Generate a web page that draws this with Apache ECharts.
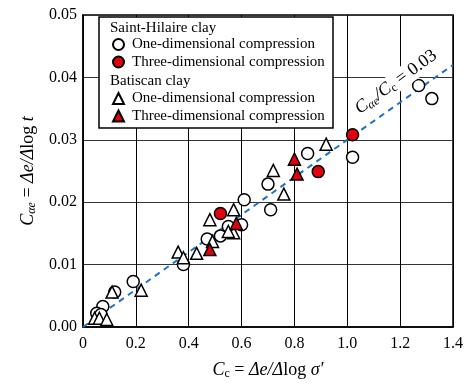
<!DOCTYPE html>
<html>
<head>
<meta charset="utf-8">
<script src="https://cdn.jsdelivr.net/npm/echarts@6/dist/echarts.min.js"></script>
<style>
  html, body { margin: 0; padding: 0; background: #fff; }
  #chart { width: 466px; height: 385px; }
</style>
</head>
<body>
<div id="chart"></div>
<script>
// tick labels
const xTicks = [0, 0.2, 0.4, 0.6, 0.8, 1.0, 1.2, 1.4];
const yTicks = [0, 0.01, 0.02, 0.03, 0.04, 0.05];

// Saint-Hilaire clay
const shOneDim = [
  [1.27, 0.0387], [1.32, 0.0366], [1.02, 0.0272], [0.85, 0.0278], [0.70, 0.0229],
  [0.71, 0.0188], [0.61, 0.0204], [0.60, 0.0164], [0.55, 0.0161], [0.52, 0.0146],
  [0.47, 0.0141], [0.38, 0.0100], [0.19, 0.0073], [0.12, 0.0056], [0.075, 0.0033],
  [0.052, 0.0022], [0.068, 0.0020]
];
const shThreeDim = [[1.02, 0.0308], [0.89, 0.0249], [0.52, 0.0182]];

// Batiscan clay
const btOneDim = [
  [0.92, 0.0293], [0.72, 0.0251], [0.76, 0.0213], [0.57, 0.0188], [0.48, 0.0172],
  [0.57, 0.0151], [0.55, 0.0153], [0.49, 0.0137], [0.43, 0.0118], [0.36, 0.0120],
  [0.38, 0.0111], [0.22, 0.0059], [0.11, 0.0056], [0.044, 0.0014], [0.062, 0.0014],
  [0.09, 0.0012]
];
const btThreeDim = [[0.80, 0.0269], [0.81, 0.0245], [0.58, 0.0166], [0.48, 0.0124]];

// C_ae / C_c = 0.03
const refLine = [[0, 0], [1.4, 0.042]];

const serif = 'Liberation Serif';
const RED = '#e3000f';

const chart = echarts.init(document.getElementById('chart'));

const mk = (name, data, symbol, fill) => ({
  name: name,
  type: 'scatter',
  data: data,
  symbol: symbol,
  symbolSize: 12,
  itemStyle: { color: fill, borderColor: '#000', borderWidth: 1.5, opacity: 1 },
  z: 3
});

const nameRich = {
  i: { fontFamily: serif, fontStyle: 'italic', fontSize: 18, color: '#000' },
  n: { fontFamily: serif, fontSize: 18, color: '#000' },
  sub: { fontFamily: serif, fontStyle: 'italic', fontSize: 12, color: '#000', padding: [8, 0, 0, 0] },
  subu: { fontFamily: serif, fontSize: 12, color: '#000', padding: [8, 0, 0, 0] }
};

const legendText = { fontFamily: serif, fontSize: 15, color: '#000', padding: [0, 0, 0, 3] };

const legendBase = {
  orient: 'vertical', left: 112, padding: 0,
  itemWidth: 11, itemHeight: 11, itemGap: 2.5,
  selectedMode: false, z: 6,
  textStyle: legendText
};

chart.setOption({
  animation: false,
  grid: {
    left: 83, right: 9, top: 15, bottom: 53,
    show: true, borderColor: '#000', borderWidth: 1.5, backgroundColor: 'transparent'
  },
  xAxis: {
    type: 'value',
    min: xTicks[0], max: xTicks[xTicks.length - 1], interval: 0.2,
    axisLine: { show: true, lineStyle: { color: '#000', width: 1.5 } },
    axisTick: { show: false },
    splitLine: { show: true, lineStyle: { color: '#000', width: 1 } },
    axisLabel: {
      fontFamily: serif, fontSize: 16, color: '#000', margin: 9,
      formatter: v => (v === 0 ? '0' : v.toFixed(1))
    },
    name: '{i|C}{subu|c}{n| = }{i|Δe/Δ}{n|log }{i|σ′}',
    nameLocation: 'middle', nameGap: 33,
    nameTextStyle: { rich: nameRich }
  },
  yAxis: {
    type: 'value',
    min: yTicks[0], max: yTicks[yTicks.length - 1], interval: 0.01,
    axisLine: { show: true, lineStyle: { color: '#000', width: 1.5 } },
    axisTick: { show: false },
    splitLine: { show: true, lineStyle: { color: '#333', width: 1 } },
    axisLabel: {
      fontFamily: serif, fontSize: 16, color: '#000', margin: 6,
      formatter: v => v.toFixed(2)
    },
    name: '{i|C}{sub|αe}{n| = }{i|Δe/Δ}{n|log }{i|t}',
    nameLocation: 'middle', nameGap: 45,
    nameTextStyle: { rich: nameRich }
  },
  legend: [
    Object.assign({}, legendBase, {
      data: ['One-dimensional compression', 'Three-dimensional compression'],
      top: 37
    }),
    Object.assign({}, legendBase, {
      data: ['One-dimensional compression ', 'Three-dimensional compression '],
      top: 91
    })
  ],
  graphic: [
    {
      type: 'rect', z: 5,
      shape: { x: 99, y: 17, width: 234, height: 111 },
      style: { fill: '#fff', stroke: '#000', lineWidth: 1.5 }
    },
    {
      type: 'text', z: 6, left: 110, top: 21,
      style: { text: 'Saint-Hilaire clay', font: '15px "Liberation Serif"', fill: '#000' }
    },
    {
      type: 'text', z: 6, left: 110, top: 74,
      style: { text: 'Batiscan clay', font: '15px "Liberation Serif"', fill: '#000' }
    },
    {
      type: 'text', z: 6, x: 396, y: 82, rotation: 36 * Math.PI / 180,
      style: {
        text: '{i|C}{sub|αe}{i|/C}{subu|c}{n| = 0.03}',
        align: 'center', verticalAlign: 'middle',
        backgroundColor: '#fff', padding: [0, 2],
        rich: nameRich
      }
    }
  ],
  series: [
    {
      type: 'line', data: refLine, symbol: 'none', silent: true, z: 2,
      lineStyle: { color: '#2171c2', width: 2, type: [6, 5] }
    },
    mk('One-dimensional compression', shOneDim, 'circle', '#fff'),
    mk('Three-dimensional compression', shThreeDim, 'circle', RED),
    mk('One-dimensional compression ', btOneDim, 'triangle', '#fff'),
    mk('Three-dimensional compression ', btThreeDim, 'triangle', RED)
  ]
});
</script>
</body>
</html>
